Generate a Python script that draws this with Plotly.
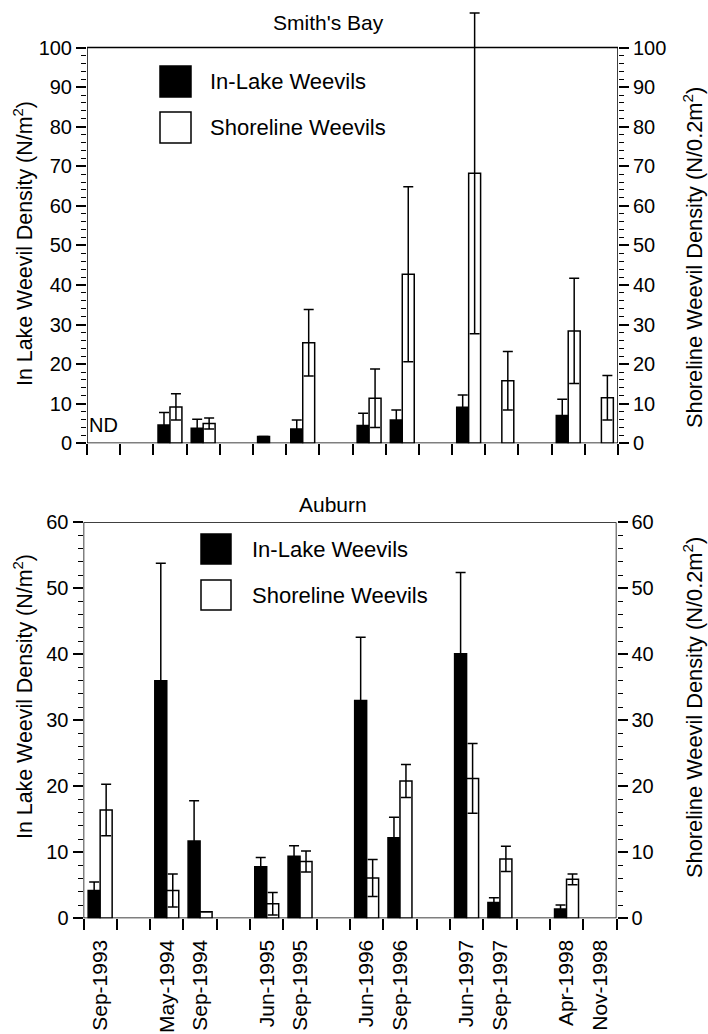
import plotly.graph_objects as go

# ---------------- data ----------------
slot_labels = ["Sep-1993", "", "May-1994", "Sep-1994", "", "Jun-1995", "Sep-1995", "",
               "Jun-1996", "Sep-1996", "", "Jun-1997", "Sep-1997", "", "Apr-1998", "Nov-1998"]

# Smith's Bay
sb_inlake = [None, None, 4.6, 3.8, None, 1.7, 3.6, None, 4.5, 5.9, None, 9.1, None, None, 7.0, None]
sb_inlake_se = [None, None, 3.2, 2.3, None, 0.0, 2.3, None, 3.1, 2.5, None, 3.1, None, None, 4.1, None]
sb_shore = [None, None, 9.2, 5.0, None, None, 25.4, None, 11.4, 42.7, None, 68.2, 15.8, None, 28.4, 11.5]
sb_shore_se = [None, None, 3.3, 1.4, None, None, 8.4, None, 7.4, 22.1, None, 40.5, 7.4, None, 13.3, 5.6]

# Auburn
au_inlake = [4.2, None, 36.0, 11.7, None, 7.8, 9.4, None, 33.0, 12.2, None, 40.1, 2.4, None, 1.4, None]
au_inlake_se = [1.3, None, 17.8, 6.1, None, 1.4, 1.6, None, 9.6, 3.1, None, 12.3, 0.7, None, 0.6, None]
au_shore = [16.4, None, 4.2, 1.0, None, 2.2, 8.6, None, 6.1, 20.8, None, 21.2, 9.0, None, 5.9, None]
au_shore_se = [3.9, None, 2.5, 0.0, None, 1.7, 1.6, None, 2.8, 2.5, None, 5.3, 1.9, None, 0.8, None]

panel_titles = ["Smith's Bay", "Auburn"]
series_names = ["In-Lake Weevils", "Shoreline Weevils"]
left_title = "In Lake Weevil Density (N/m<sup>2</sup>)"
right_title = "Shoreline Weevil Density (N/0.2m<sup>2</sup>)"
axis_max = [100, 60]

# ---------------- layout helpers ----------------
W, H = 708, 1034
FONT = "Liberation Sans, Arial, Helvetica, sans-serif"


def fx(px):
    return px / W


def fy(py):
    return 1 - py / H


xs = list(range(1, len(slot_labels) + 1))
label_vals = [x for x, l in zip(xs, slot_labels) if l]
label_text = [l for l in slot_labels if l]
boundaries = [x - 0.5 for x in xs] + [xs[-1] + 0.5]
x_range = [boundaries[0], boundaries[-1]]


def clean(a):
    return [0 if v is None else v for v in a]


# pixel geometry of the two panels: (left, right, y of value 0, y of axis max)
geom = [
    dict(x0=87, x1=618, ybot=443.3, ytop=47.5),
    dict(x0=83.5, x1=616.5, ybot=918.3, ytop=522.3),
]
# headroom above the frame (so the tallest error bar can poke out above it)
headroom = [1.10, 1.0]

fig = go.Figure()

panels = [
    dict(xa="x", ya="y", yr="y2", inl=sb_inlake, inl_se=sb_inlake_se,
         sh=sb_shore, sh_se=sb_shore_se),
    dict(xa="x2", ya="y3", yr="y4", inl=au_inlake, inl_se=au_inlake_se,
         sh=au_shore, sh_se=au_shore_se),
]

BW = 0.36
for p in panels:
    fig.add_trace(go.Bar(
        x=xs, y=p["inl"], xaxis=p["xa"], yaxis=p["ya"], width=BW, offset=-BW,
        marker=dict(color="black", line=dict(color="black", width=1.5)),
        error_y=dict(type="data", array=clean(p["inl_se"]), visible=True,
                     color="black", thickness=1.5, width=5),
        cliponaxis=False, showlegend=False, name=series_names[0]))
    fig.add_trace(go.Bar(
        x=xs, y=p["sh"], xaxis=p["xa"], yaxis=p["yr"], width=BW, offset=0,
        marker=dict(color="white", line=dict(color="black", width=1.5)),
        error_y=dict(type="data", array=clean(p["sh_se"]), visible=True,
                     color="black", thickness=1.5, width=5),
        cliponaxis=False, showlegend=False, name=series_names[1]))

tickfont = dict(family=FONT, size=20, color="black")


def xaxis_cfg(g, anchor, show_labels):
    return dict(
        domain=[fx(g["x0"]), fx(g["x1"])], anchor=anchor, range=x_range,
        showline=False, showgrid=False, zeroline=False, automargin=False,
        tickmode="array", tickvals=label_vals, ticktext=label_text,
        ticks="outside", ticklen=12, tickcolor="rgba(0,0,0,0)",
        showticklabels=show_labels, tickangle=-90,
        tickfont=dict(family=FONT, size=21, color="black"),
        minor=dict(tickmode="array", tickvals=boundaries, ticks="outside",
                   ticklen=11, tickwidth=1.5, tickcolor="black", showgrid=False),
    )


def yaxis_cfg(g, anchor, ymax, hr, side="left", overlay=None):
    rng_top = ymax * hr
    pix_per = (g["ybot"] - g["ytop"]) / ymax
    y_top_px = g["ybot"] - rng_top * pix_per
    d = dict(
        domain=[fy(g["ybot"]), fy(y_top_px)], anchor=anchor, range=[0, rng_top], side=side,
        showline=False, showgrid=False, zeroline=False, automargin=False,
        tickmode="array", tickvals=list(range(0, ymax + 1, 10)),
        ticks="outside", ticklen=10, tickwidth=1.5,
        tickcolor="black", tickfont=tickfont,
        minor=dict(tickmode="array",
                   tickvals=[v for v in range(0, ymax + 1, 2) if v % 10],
                   ticks="outside", ticklen=5,
                   tickwidth=1.2, tickcolor="black", showgrid=False),
    )
    if overlay:
        d["overlaying"] = overlay
    return d


fig.update_layout(
    width=W, height=H, autosize=False,
    margin=dict(l=0, r=0, t=0, b=0),
    paper_bgcolor="white", plot_bgcolor="rgba(0,0,0,0)",
    barmode="overlay",
    font=dict(family=FONT, color="black"),
    xaxis=xaxis_cfg(geom[0], "y", False),
    yaxis=yaxis_cfg(geom[0], "x", axis_max[0], headroom[0]),
    yaxis2=yaxis_cfg(geom[0], "x", axis_max[0], headroom[0], side="right", overlay="y"),
    xaxis2=xaxis_cfg(geom[1], "y3", True),
    yaxis3=yaxis_cfg(geom[1], "x2", axis_max[1], headroom[1]),
    yaxis4=yaxis_cfg(geom[1], "x2", axis_max[1], headroom[1], side="right", overlay="y3"),
)

annotations = []
shapes = []

# Plot frames (box around each panel from 0 to the axis maximum)
for (xa, ya), ymax in zip([("x", "y"), ("x2", "y3")], axis_max):
    shapes.append(dict(type="rect", xref=xa, yref=ya, x0=x_range[0], x1=x_range[1],
                       y0=0, y1=ymax, line=dict(color="black", width=1.5),
                       fillcolor="rgba(0,0,0,0)", layer="above"))

# Panel titles
for title, (cx, cy) in zip(panel_titles, [(328, 22), (333, 505)]):
    annotations.append(dict(text=title, x=fx(cx), y=fy(cy), xref="paper", yref="paper",
                            xanchor="center", yanchor="middle", showarrow=False,
                            font=dict(family=FONT, size=21, color="black")))

# Axis titles
for (cx, cy, txt, fs) in [(23, 244, left_title, 21.4), (693, 258, right_title, 21.8),
                          (23, 697, left_title, 21.4), (693, 708, right_title, 21.8)]:
    annotations.append(dict(text=txt, x=fx(cx), y=fy(cy), xref="paper", yref="paper",
                            xanchor="center", yanchor="middle", textangle=-90,
                            showarrow=False,
                            font=dict(family=FONT, size=fs, color="black")))

# Legends (swatch squares + labels)
legend_specs = [
    (160, 191, 81.5, 127.5, 208),
    (201, 231, 549, 595, 250),
]
for (sx0, sx1, cy_black, cy_white, tx) in legend_specs:
    half = (sx1 - sx0) / 2
    for cy, fill, name in [(cy_black, "black", series_names[0]),
                           (cy_white, "white", series_names[1])]:
        shapes.append(dict(type="rect", xref="paper", yref="paper",
                           x0=fx(sx0), x1=fx(sx1), y0=fy(cy + half), y1=fy(cy - half),
                           fillcolor=fill, line=dict(color="black", width=1.5)))
        annotations.append(dict(text=name, x=fx(tx), y=fy(cy), xref="paper", yref="paper",
                                xanchor="left", yanchor="middle", showarrow=False,
                                font=dict(family=FONT, size=22, color="black")))

# ND marker (no data) in the first Smith's Bay slot
annotations.append(dict(text="ND", x=xs[0], y=4.6, xref="x", yref="y",
                        xanchor="center", yanchor="middle", showarrow=False,
                        font=dict(family=FONT, size=20, color="black")))

fig.update_layout(annotations=annotations, shapes=shapes)

fig.write_html(
    "out.html",
    config={"displayModeBar": False},
    post_script="document.body.style.margin='0px';document.body.style.overflow='hidden';"
                "document.documentElement.style.overflow='hidden';",
)
